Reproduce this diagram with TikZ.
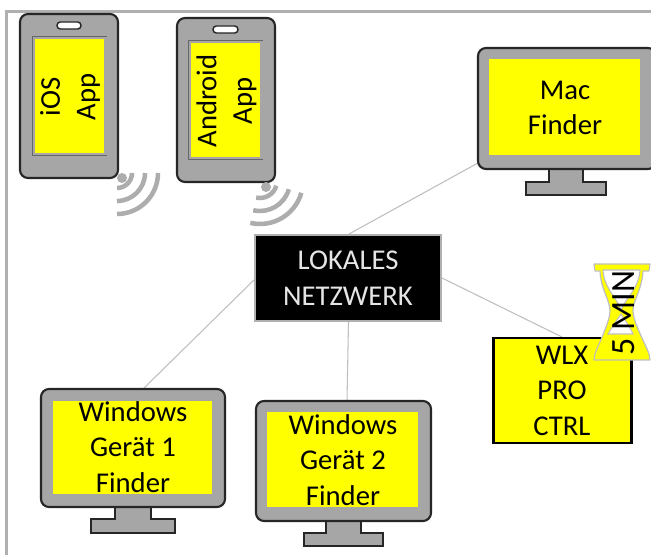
\documentclass[tikz,border=0pt]{standalone}
\usepackage{fontspec}
\setmainfont{Carlito}
\definecolor{bodygray}{HTML}{A6A6A6}
\definecolor{edgedark}{HTML}{262626}
\definecolor{linegray}{HTML}{BFBFBF}
\definecolor{framegray}{HTML}{B0B0B0}
\definecolor{wifigray}{HTML}{ADADAD}
\definecolor{screenyellow}{HTML}{FFFF00}
\tikzset{
  x=0.75pt,y=-0.75pt,
  bodyshape/.style={draw=edgedark,fill=bodygray,line width=1.6pt,rounded corners=6pt,line join=round},
  standshape/.style={draw=edgedark,fill=bodygray,line width=1.5pt,line join=miter},
  phoneedge/.style={draw=black!60,line width=1.2pt},
  label/.style={font=\fontsize{21.5pt}{26.6pt}\selectfont,align=center,text=black,inner sep=0pt},
  wire/.style={draw=linegray,line width=0.8pt},
  wave/.style={draw=wifigray,line width=3.4pt,line cap=butt},
  notchshape/.style={draw=edgedark,fill=white,line width=1.1pt,rounded corners=2.5pt},
}
\begin{document}
\begin{tikzpicture}
\useasboundingbox (0,0) rectangle (651,555);
\fill[white] (0,0) rectangle (651,555);
\draw[framegray,line width=2pt] (6.5,555) -- (6.5,11.5) -- (651,11.5);

% connector ends on the devices
\coordinate (macport) at (478,163);
\coordinate (winaport) at (143,389);
\coordinate (winbport) at (347,401);
\coordinate (wlxport) at (562,337);

\node[draw=framegray,fill=black,line width=1.8pt,minimum width=141pt-1.8pt,minimum height=66.5pt-1.8pt,inner sep=0pt] (hub) at (348,278) {};
\node[label,text=white!90!black] (hubtext) at (348,278) {LOKALES\\NETZWERK};

\draw[wire] (349,234) -- (macport);
\draw[wire] (hub.west) ++(0,2) -- (winaport);
\draw[wire] (348.5,322) -- (winbport);
\draw[wire] (442,278) -- (wlxport);

% iOS phone
\draw[bodyshape] (20,14) rectangle (118,178);
\draw[phoneedge] (107,36.5) -- (32.5,36.5) -- (32.5,155.5) -- (107,155.5);
\fill[screenyellow] (35,39) rectangle (104,153);
\draw[notchshape] (57,22) rectangle (81,29);
\node[label,rotate=90] (ios) at (70,97) {iOS\\App};

% Android phone
\draw[bodyshape] (177,18) rectangle (275,182);
\draw[phoneedge] (263,40.5) -- (188.5,40.5) -- (188.5,159.5) -- (263,159.5);
\fill[screenyellow] (191,43) rectangle (260,157);
\draw[notchshape] (213,26) rectangle (238,33);
\node[label,rotate=90] (android) at (226.5,101) {Android\\App};

% wifi waves
\fill[wifigray] (122,178) circle[radius=5];
\draw[wave] (132,173) arc[start angle=0,end angle=90,radius=15];
\draw[wave] (145,173) arc[start angle=0,end angle=90,radius=28];
\draw[wave] (158,173) arc[start angle=0,end angle=90,radius=41];

\fill[wifigray] (266,187) circle[radius=5];
\begin{scope}[shift={(260,181)}]
\draw[wave] (16:17) arc[start angle=16,end angle=103,radius=17];
\draw[wave] (16:30) arc[start angle=16,end angle=103,radius=30];
\draw[wave] (16:43) arc[start angle=16,end angle=103,radius=43];
\end{scope}

% Mac monitor
\draw[standshape] (549,165) -- (549,182) -- (526,182) -- (526,195) -- (606,195) -- (606,182) -- (583,182) -- (583,165);
\draw[bodyshape] (478,48) rectangle (656,169);
\fill[screenyellow] (489,59) rectangle (640,155);
\node[label] (mac) at (565,108) {Mac\\Finder};

% Windows 1 monitor
\draw[standshape] (115,503) -- (115,519) -- (91,519) -- (91,533) -- (175,533) -- (175,519) -- (151,519) -- (151,503);
\draw[bodyshape] (41,389) rectangle (225,507);
\fill[screenyellow] (53,401) rectangle (212,494);
\node[label] (wina) at (133,447) {Windows\\Gerät 1\\Finder};

% Windows 2 monitor
\draw[standshape] (326,517) -- (326,533) -- (304,533) -- (304,546) -- (383,546) -- (383,533) -- (361,533) -- (361,517);
\draw[bodyshape] (256,401) rectangle (431,521);
\fill[screenyellow] (267,412) rectangle (418,507);
\node[label] (winb) at (343,460) {Windows\\Gerät 2\\Finder};

% WLX box
\node[draw=black,fill=screenyellow,line width=1.8pt,minimum width=105.5pt-1.8pt,minimum height=80.5pt-1.8pt,inner sep=0pt] (wlxbox) at (562.5,390.5) {};
\node[label] (wlx) at (562,390.5) {WLX\\PRO\\CTRL};

% hourglass
\draw[draw=linegray,fill=screenyellow,line width=0.9pt,line join=round]
  (594,264) -- (650,264) -- (649,271) -- (643,271)
  .. controls (642,290) and (633,300) .. (633,311)
  .. controls (633,322) and (646,345) .. (649,354)
  -- (650,360) -- (594,360) -- (595,354)
  .. controls (598,345) and (610,322) .. (610,311)
  .. controls (610,300) and (601,290) .. (600,271)
  -- (595,271) -- cycle;
\draw[draw=linegray,fill=white,line width=0.8pt]
  (603,270) -- (640,270)
  .. controls (639,288) and (626,298) .. (621,310)
  .. controls (617,298) and (604,288) .. (603,270) -- cycle;
\draw[draw=linegray,fill=white,line width=0.8pt]
  (621,314) .. controls (625,320) and (630,327) .. (633,334)
  -- (608,334) .. controls (612,327) and (617,320) .. (621,314) -- cycle;
\node[label,rotate=90,font=\fontsize{25.5pt}{28pt}\selectfont] (timer) at (624,313) {5 MIN};
\end{tikzpicture}
\end{document}
